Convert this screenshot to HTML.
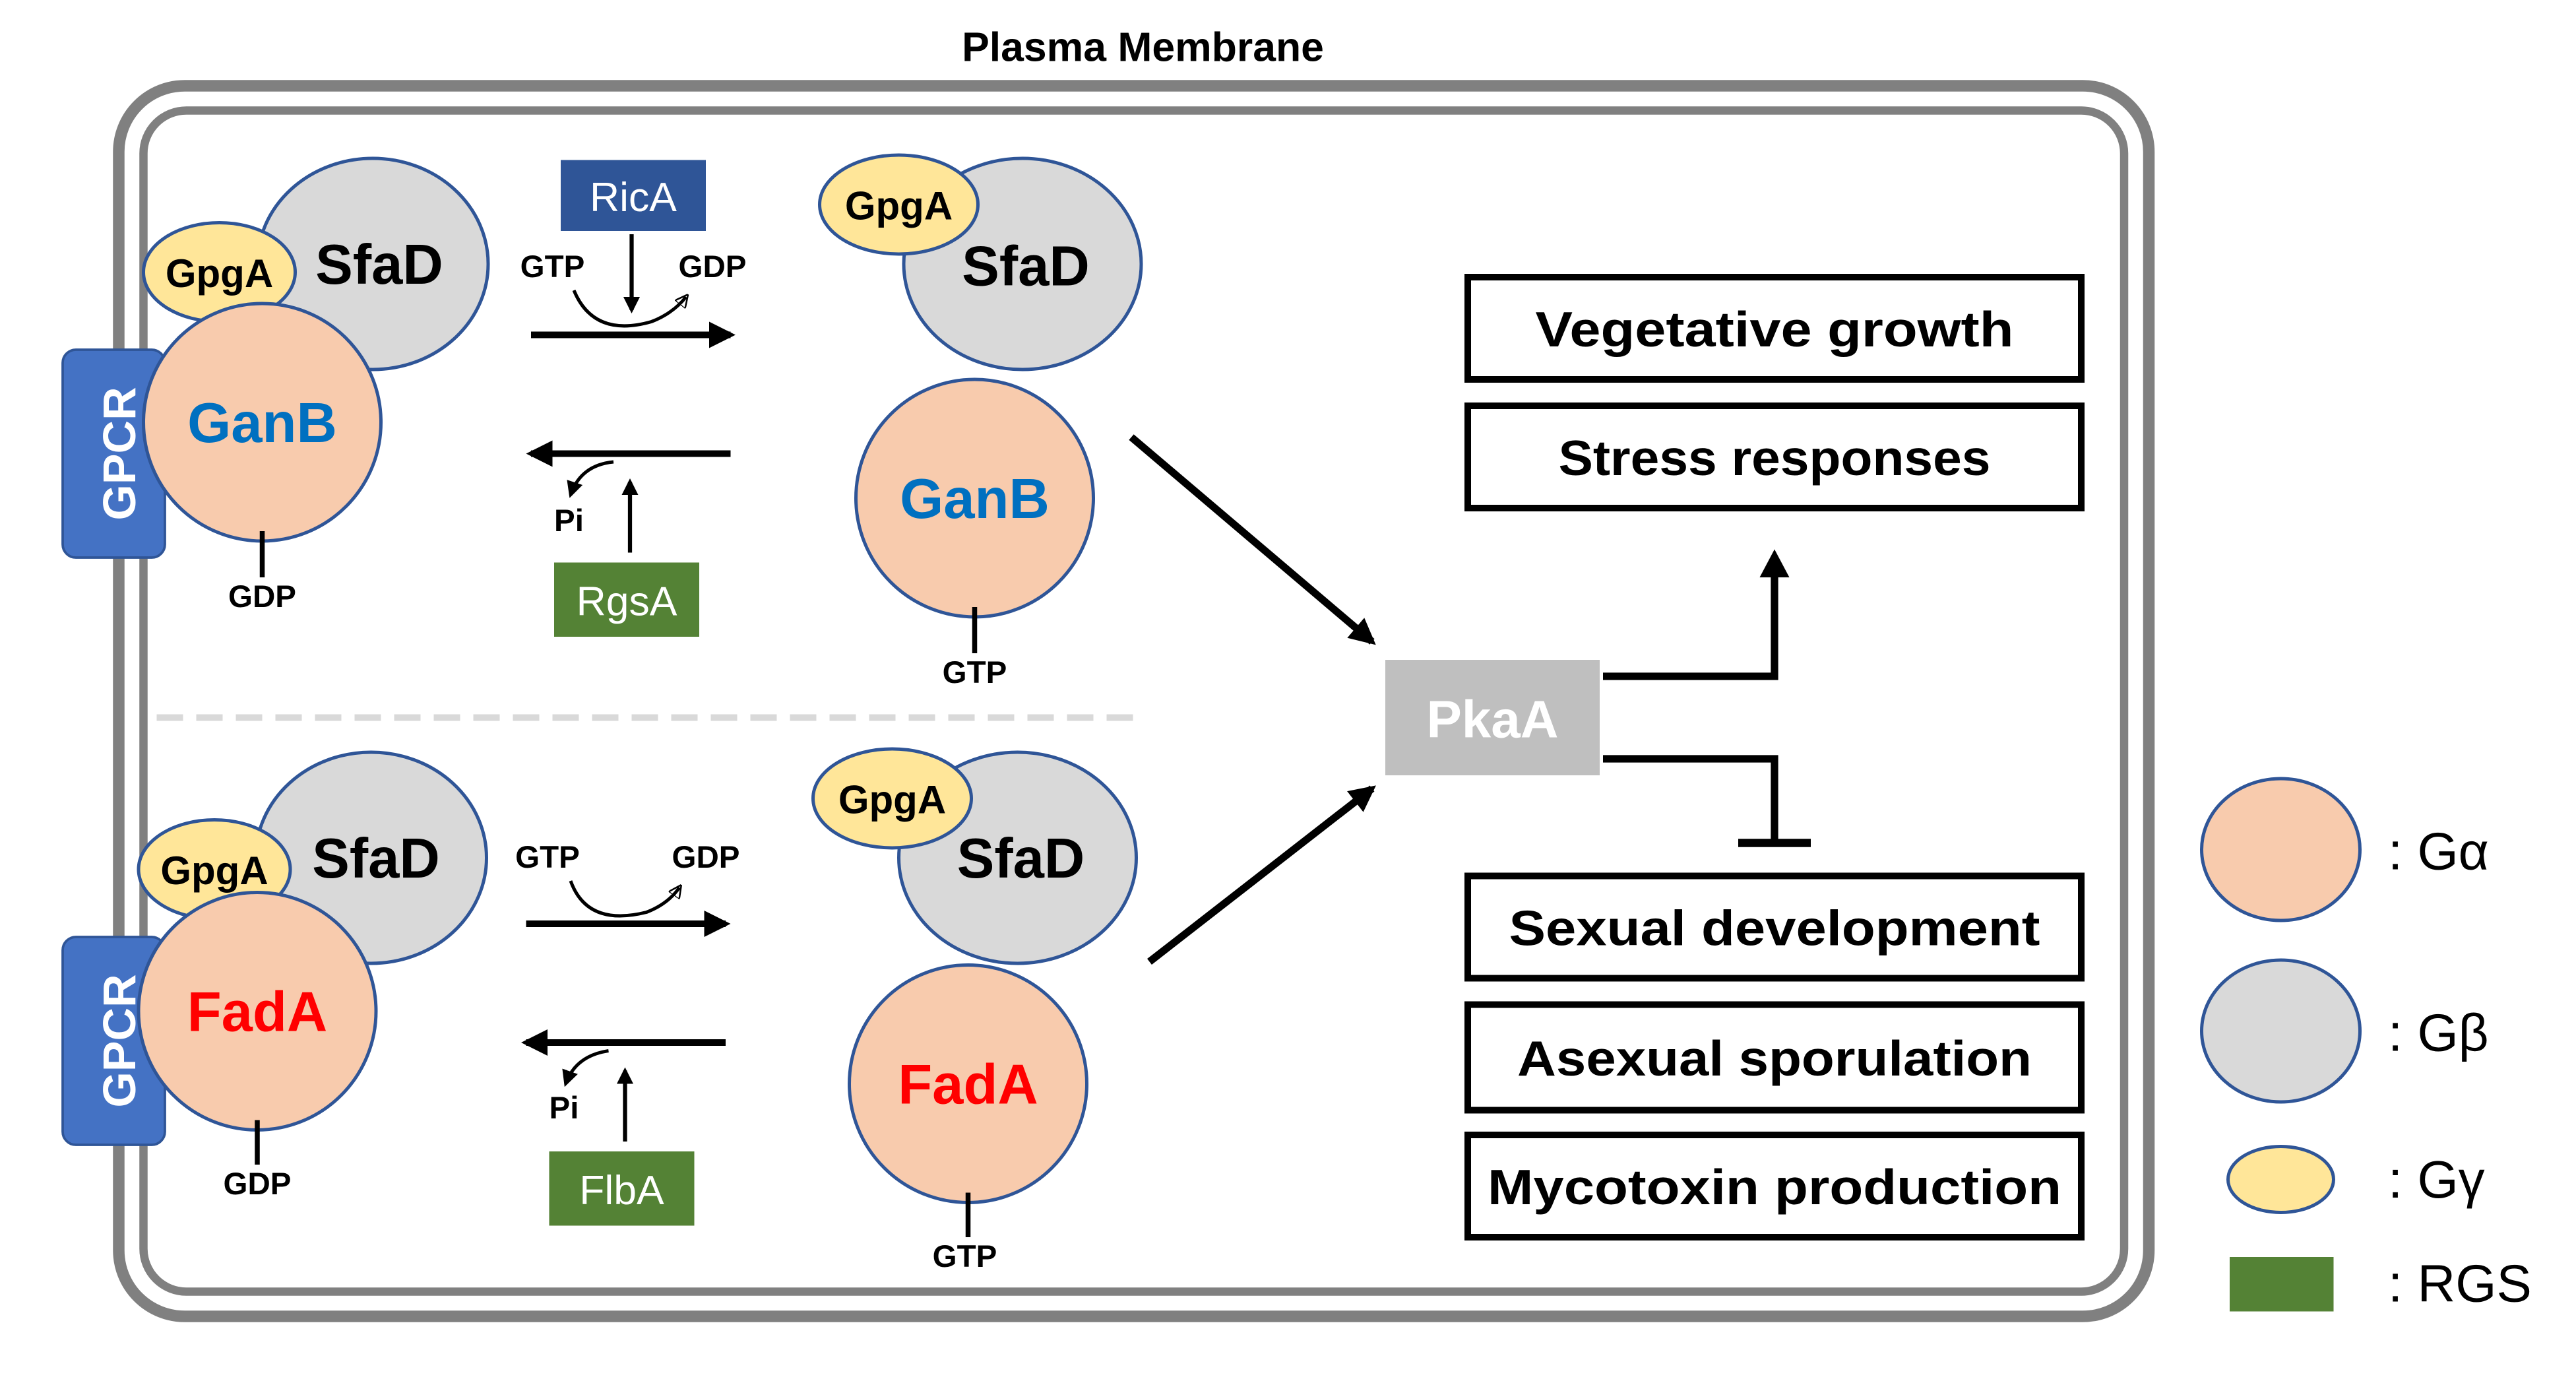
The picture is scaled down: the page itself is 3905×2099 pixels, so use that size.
<!DOCTYPE html>
<html><head><meta charset="utf-8"><style>html,body{margin:0;padding:0;background:#fff}svg{display:block}</style></head>
<body>
<svg width="3905" height="2099" viewBox="0 0 1562 839.6" xmlns="http://www.w3.org/2000/svg" font-family="Liberation Sans, sans-serif">
<defs>
<marker id="ah" markerWidth="10" markerHeight="10" refX="8" refY="5" orient="auto" markerUnits="userSpaceOnUse"><path d="M0,0 L10,5 L0,10 Z" fill="#000"/></marker>
<marker id="ahb" markerWidth="16" markerHeight="16" refX="13" refY="8" orient="auto" markerUnits="userSpaceOnUse"><path d="M0,0 L16,8 L0,16 Z" fill="#000"/></marker>
<marker id="sm" markerWidth="8" markerHeight="8" refX="6" refY="4" orient="auto" markerUnits="userSpaceOnUse"><path d="M0,0 L8,4 L0,8 Z" fill="none" stroke="#000" stroke-width="1"/></marker>
</defs>
<text x="693" y="37" text-anchor="middle" font-size="25" font-weight="bold">Plasma Membrane</text>
<rect x="72" y="52" width="1231" height="746" rx="40" fill="none" stroke="#808080" stroke-width="7"/>
<rect x="87" y="67" width="1201" height="716" rx="26" fill="none" stroke="#808080" stroke-width="5"/>

<!-- top left -->
<rect x="38" y="212" width="62" height="126" rx="8" fill="#4472C4" stroke="#2F5597" stroke-width="1.5"/>
<text transform="translate(82,275) rotate(-90)" text-anchor="middle" font-size="28" font-weight="bold" fill="#fff">GPCR</text>
<ellipse cx="226" cy="160" rx="70" ry="64" fill="#D9D9D9" stroke="#2F5597" stroke-width="2"/>
<text x="230" y="172" text-anchor="middle" font-size="34" font-weight="bold">SfaD</text>
<ellipse cx="133" cy="165" rx="46" ry="30" fill="#FFE699" stroke="#2F5597" stroke-width="2"/>
<text x="133" y="174" text-anchor="middle" font-size="24" font-weight="bold">GpgA</text>
<circle cx="159" cy="256" r="72" fill="#F8CBAD" stroke="#2F5597" stroke-width="2"/>
<text x="159" y="268" text-anchor="middle" font-size="34" font-weight="bold" fill="#0070C0">GanB</text>
<line x1="159" y1="322" x2="159" y2="350" stroke="#000" stroke-width="3"/>
<text x="159" y="368" text-anchor="middle" font-size="19" font-weight="bold">GDP</text>

<!-- top arrows -->
<line x1="322" y1="203" x2="443" y2="203" stroke="#000" stroke-width="4" marker-end="url(#ahb)"/>
<rect x="340" y="97" width="88" height="43" fill="#2F5597"/>
<text x="384" y="128" text-anchor="middle" font-size="25" fill="#fff">RicA</text>
<line x1="383" y1="142" x2="383" y2="188" stroke="#000" stroke-width="2.5" marker-end="url(#ah)"/>
<text x="335" y="168" text-anchor="middle" font-size="19" font-weight="bold">GTP</text>
<text x="432" y="168" text-anchor="middle" font-size="19" font-weight="bold">GDP</text>
<path d="M348,176 Q360,205 395,195 Q408,190 416,180" fill="none" stroke="#000" stroke-width="2" marker-end="url(#sm)"/>
<line x1="443" y1="275" x2="322" y2="275" stroke="#000" stroke-width="4" marker-end="url(#ahb)"/>
<path d="M372,280 Q352,282 346,300" fill="none" stroke="#000" stroke-width="2" marker-end="url(#ah)"/>
<text x="345" y="322" text-anchor="middle" font-size="19" font-weight="bold">Pi</text>
<line x1="382" y1="335" x2="382" y2="292" stroke="#000" stroke-width="2.5" marker-end="url(#ah)"/>
<rect x="336" y="341" width="88" height="45" fill="#548235"/>
<text x="380" y="373" text-anchor="middle" font-size="25" fill="#fff">RgsA</text>

<!-- top middle -->
<ellipse cx="620" cy="160" rx="72" ry="64" fill="#D9D9D9" stroke="#2F5597" stroke-width="2"/>
<text x="622" y="173" text-anchor="middle" font-size="34" font-weight="bold">SfaD</text>
<ellipse cx="545" cy="124" rx="48" ry="30" fill="#FFE699" stroke="#2F5597" stroke-width="2"/>
<text x="545" y="133" text-anchor="middle" font-size="24" font-weight="bold">GpgA</text>
<circle cx="591" cy="302" r="72" fill="#F8CBAD" stroke="#2F5597" stroke-width="2"/>
<text x="591" y="314" text-anchor="middle" font-size="34" font-weight="bold" fill="#0070C0">GanB</text>
<line x1="591" y1="368" x2="591" y2="396" stroke="#000" stroke-width="3"/>
<text x="591" y="414" text-anchor="middle" font-size="19" font-weight="bold">GTP</text>

<line x1="95" y1="435" x2="688" y2="435" stroke="#D9D9D9" stroke-width="4" stroke-dasharray="16 8"/>

<!-- bottom left -->
<rect x="38" y="568" width="62" height="126" rx="8" fill="#4472C4" stroke="#2F5597" stroke-width="1.5"/>
<text transform="translate(82,631) rotate(-90)" text-anchor="middle" font-size="28" font-weight="bold" fill="#fff">GPCR</text>
<ellipse cx="225" cy="520" rx="70" ry="64" fill="#D9D9D9" stroke="#2F5597" stroke-width="2"/>
<text x="228" y="532" text-anchor="middle" font-size="34" font-weight="bold">SfaD</text>
<ellipse cx="130" cy="527" rx="46" ry="30" fill="#FFE699" stroke="#2F5597" stroke-width="2"/>
<text x="130" y="536" text-anchor="middle" font-size="24" font-weight="bold">GpgA</text>
<circle cx="156" cy="613" r="72" fill="#F8CBAD" stroke="#2F5597" stroke-width="2"/>
<text x="156" y="625" text-anchor="middle" font-size="34" font-weight="bold" fill="#FF0000">FadA</text>
<line x1="156" y1="679" x2="156" y2="706" stroke="#000" stroke-width="3"/>
<text x="156" y="724" text-anchor="middle" font-size="19" font-weight="bold">GDP</text>

<!-- bottom arrows -->
<line x1="319" y1="560" x2="440" y2="560" stroke="#000" stroke-width="4" marker-end="url(#ahb)"/>
<text x="332" y="526" text-anchor="middle" font-size="19" font-weight="bold">GTP</text>
<text x="428" y="526" text-anchor="middle" font-size="19" font-weight="bold">GDP</text>
<path d="M346,534 Q356,562 392,553 Q405,548 412,538" fill="none" stroke="#000" stroke-width="2" marker-end="url(#sm)"/>
<line x1="440" y1="632" x2="319" y2="632" stroke="#000" stroke-width="4" marker-end="url(#ahb)"/>
<path d="M369,637 Q349,640 343,657" fill="none" stroke="#000" stroke-width="2" marker-end="url(#ah)"/>
<text x="342" y="678" text-anchor="middle" font-size="19" font-weight="bold">Pi</text>
<line x1="379" y1="692" x2="379" y2="649" stroke="#000" stroke-width="2.5" marker-end="url(#ah)"/>
<rect x="333" y="698" width="88" height="45" fill="#548235"/>
<text x="377" y="730" text-anchor="middle" font-size="25" fill="#fff">FlbA</text>

<!-- bottom middle -->
<ellipse cx="617" cy="520" rx="72" ry="64" fill="#D9D9D9" stroke="#2F5597" stroke-width="2"/>
<text x="619" y="532" text-anchor="middle" font-size="34" font-weight="bold">SfaD</text>
<ellipse cx="541" cy="484" rx="48" ry="30" fill="#FFE699" stroke="#2F5597" stroke-width="2"/>
<text x="541" y="493" text-anchor="middle" font-size="24" font-weight="bold">GpgA</text>
<circle cx="587" cy="657" r="72" fill="#F8CBAD" stroke="#2F5597" stroke-width="2"/>
<text x="587" y="669" text-anchor="middle" font-size="34" font-weight="bold" fill="#FF0000">FadA</text>
<line x1="587" y1="723" x2="587" y2="750" stroke="#000" stroke-width="3"/>
<text x="585" y="768" text-anchor="middle" font-size="19" font-weight="bold">GTP</text>

<!-- to PkaA -->
<line x1="686" y1="265" x2="832" y2="389" stroke="#000" stroke-width="4.5" marker-end="url(#ahb)"/>
<line x1="697" y1="583" x2="832" y2="478" stroke="#000" stroke-width="4.5" marker-end="url(#ahb)"/>
<rect x="840" y="400" width="130" height="70" fill="#BFBFBF"/>
<text x="905" y="447" text-anchor="middle" font-size="32" font-weight="bold" fill="#fff">PkaA</text>

<polyline points="972,410 1076,410 1076,348" fill="none" stroke="#000" stroke-width="4.5"/>
<path d="M1067,350 L1076,333 L1085,350 Z" fill="#000"/>
<polyline points="972,460 1076,460 1076,511" fill="none" stroke="#000" stroke-width="4.5"/>
<line x1="1054" y1="511" x2="1098" y2="511" stroke="#000" stroke-width="5"/>

<g fill="#fff" stroke="#000" stroke-width="4">
<rect x="890" y="168" width="372" height="62"/>
<rect x="890" y="246" width="372" height="62"/>
<rect x="890" y="531" width="372" height="62"/>
<rect x="890" y="609" width="372" height="64"/>
<rect x="890" y="688" width="372" height="62"/>
</g>
<g font-size="30" font-weight="bold" text-anchor="middle">
<text x="1076" y="210" textLength="290" lengthAdjust="spacingAndGlyphs">Vegetative growth</text>
<text x="1076" y="288" textLength="262" lengthAdjust="spacingAndGlyphs">Stress responses</text>
<text x="1076" y="573" textLength="322" lengthAdjust="spacingAndGlyphs">Sexual development</text>
<text x="1076" y="652" textLength="312" lengthAdjust="spacingAndGlyphs">Asexual sporulation</text>
<text x="1076" y="730" textLength="348" lengthAdjust="spacingAndGlyphs">Mycotoxin production</text>
</g>

<!-- legend -->
<ellipse cx="1383" cy="515" rx="48" ry="43" fill="#F8CBAD" stroke="#2F5597" stroke-width="2"/>
<ellipse cx="1383" cy="625" rx="48" ry="43" fill="#D9D9D9" stroke="#2F5597" stroke-width="2"/>
<ellipse cx="1383" cy="715" rx="32" ry="20" fill="#FFE699" stroke="#2F5597" stroke-width="2"/>
<rect x="1352" y="762" width="63" height="33" fill="#548235"/>
<g font-size="32">
<text x="1448" y="527">: Gα</text>
<text x="1448" y="637">: Gβ</text>
<text x="1448" y="726">: Gγ</text>
<text x="1448" y="789">: RGS</text>
</g>
</svg>
</body></html>
